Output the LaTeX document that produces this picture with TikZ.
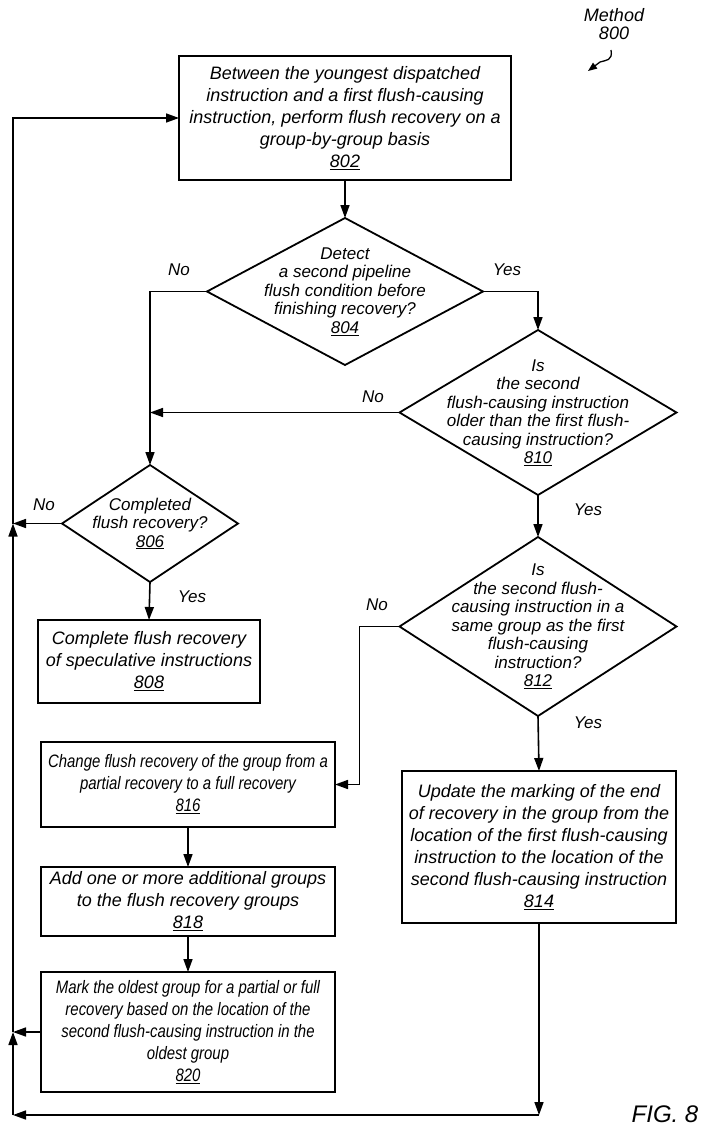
\documentclass[tikz,border=0pt]{standalone}
\usepackage{fontspec}
\setmainfont{Liberation Sans}
\newfontfamily\narrowfont{Liberation Sans}[FakeStretch=0.83]
\usetikzlibrary{arrows.meta,shapes.geometric}
\tikzset{
    line/.style={line width=1.6pt},
    arr/.style={line, -{Triangle[length=13pt,width=9pt]}},
    stepbox/.style={draw, line width=1.8pt, rectangle, inner sep=0pt, outer sep=0pt, align=center,
        font=\fontsize{18}{22}\selectfont\itshape},
    narrowbox/.style={stepbox, font=\fontsize{18}{22}\selectfont\narrowfont\itshape},
    decision/.style={draw, line width=1.8pt, diamond, inner sep=0pt, outer sep=0pt},
    dtext/.style={align=center, font=\fontsize{17}{18.5}\selectfont\itshape},
    answer/.style={font=\fontsize{17}{18.5}\selectfont\itshape}
}
\begin{document}
\begin{tikzpicture}[x=1pt,y=-1pt]
                \useasboundingbox (0,0) rectangle (705,1134);
                %% method label
                \node[dtext, font=\fontsize{18}{18}\selectfont\itshape] (m800) at (614,24) {Method\\800};
                \coordinate (squigtop) at (611,50);
                \coordinate (squigend) at (588,71);
                \draw[line width=1.3pt, -{Triangle[length=9pt,width=7pt]}] (squigtop) .. controls (613,61) and (606,60) .. (600,62) -- (squigend);
                %% boxes
                \node[stepbox, minimum width=332, minimum height=124] (b802) at (345,118)
                    {Between the youngest dispatched\\instruction and a first flush-causing\\instruction, perform flush recovery on a\\group-by-group basis\\\underline{802}};
                \node[stepbox, minimum width=222, minimum height=83] (b808) at (149,661.5)
                    {Complete flush recovery\\of speculative instructions\\\underline{808}};
                \node[stepbox, minimum width=274, minimum height=152] (b814) at (539,847)
                    {Update the marking of the end\\of recovery in the group from the\\location of the first flush-causing\\instruction to the location of the\\second flush-causing instruction\\\underline{814}};
                \node[narrowbox, minimum width=294, minimum height=85] (b816) at (188,784.5)
                    {Change flush recovery of the group from a\\partial recovery to a full recovery\\\underline{816}};
                \node[stepbox, minimum width=294, minimum height=69] (b818) at (188,901.5)
                    {Add one or more additional groups\\to the flush recovery groups\\\underline{818}};
                \node[narrowbox, minimum width=294, minimum height=120] (b820) at (188,1032)
                    {Mark the oldest group for a partial or full\\recovery based on the location of the\\second flush-causing instruction in the\\oldest group\\\underline{820}};
                %% decisions
                \node[decision, minimum width=276, minimum height=147] (d804) at (345,291.5) {};
                \node[dtext] at (d804) {Detect\\a second pipeline\\flush condition before\\finishing recovery?\\\underline{804}};
                \node[decision, minimum width=176, minimum height=117] (d806) at (150,523.5) {};
                \node[dtext] at (d806) {Completed\\flush recovery?\\\underline{806}};
                \node[decision, minimum width=277, minimum height=165] (d810) at (538,412.5) {};
                \node[dtext] at (d810) {Is\\the second\\flush-causing instruction\\older than the first flush-\\causing instruction?\\\underline{810}};
                \node[decision, minimum width=277, minimum height=179] (d812) at (538,626.5) {};
                \node[dtext] at (d812) {Is\\the second flush-\\causing instruction in a\\same group as the first\\flush-causing\\instruction?\\\underline{812}};
                %% flow
                \draw[arr] (b802.south) -- (d804.north);
                \draw[arr] (d804.west) -| (d806.north);
                \node[answer] at (179,270) {No};
                \draw[arr] (d804.east) -| (d810.north);
                \node[answer] at (507,270) {Yes};
                \draw[arr] (d810.west) -- (d810.west -| d806.north);
                \node[answer] at (373,397) {No};
                \draw[arr] (d806.south) -- (b808.north);
                \node[answer] at (192,597) {Yes};
                \draw[arr] (d810.south) -- (d812.north);
                \node[answer] at (588,510) {Yes};
                \draw[arr] (d812.west) -- ++(-40,0) |- (b816.east);
                \node[answer] at (377,605) {No};
                \draw[arr] (d812.south) -- (b814.north);
                \node[answer] at (588,723) {Yes};
                \draw[arr] (b816.south) -- (b818.north);
                \draw[arr] (b818.south) -- (b820.north);
                %% loop back
                \coordinate (loopbot) at (13,1115);
                \draw[arr] (b814.south) -- (b814.south |- loopbot);
                \draw[arr] (b814.south |- loopbot) -- (loopbot);
                \draw[arr] (loopbot) -- (loopbot |- b820.west);
                \draw[arr] (b820.west) -- (loopbot |- b820.west);
                \draw[arr] (loopbot |- b820.west) -- (loopbot |- d806.west);
                \draw[arr] (d806.west) -- (loopbot |- d806.west);
                \node[answer] at (44,505) {No};
                \draw[arr] (loopbot |- d806.west) |- (b802.west);
                %% figure label
                \node[font=\fontsize{24}{24}\selectfont\itshape] (fig) at (665,1114) {FIG. 8};
            \end{tikzpicture}
\end{document}
